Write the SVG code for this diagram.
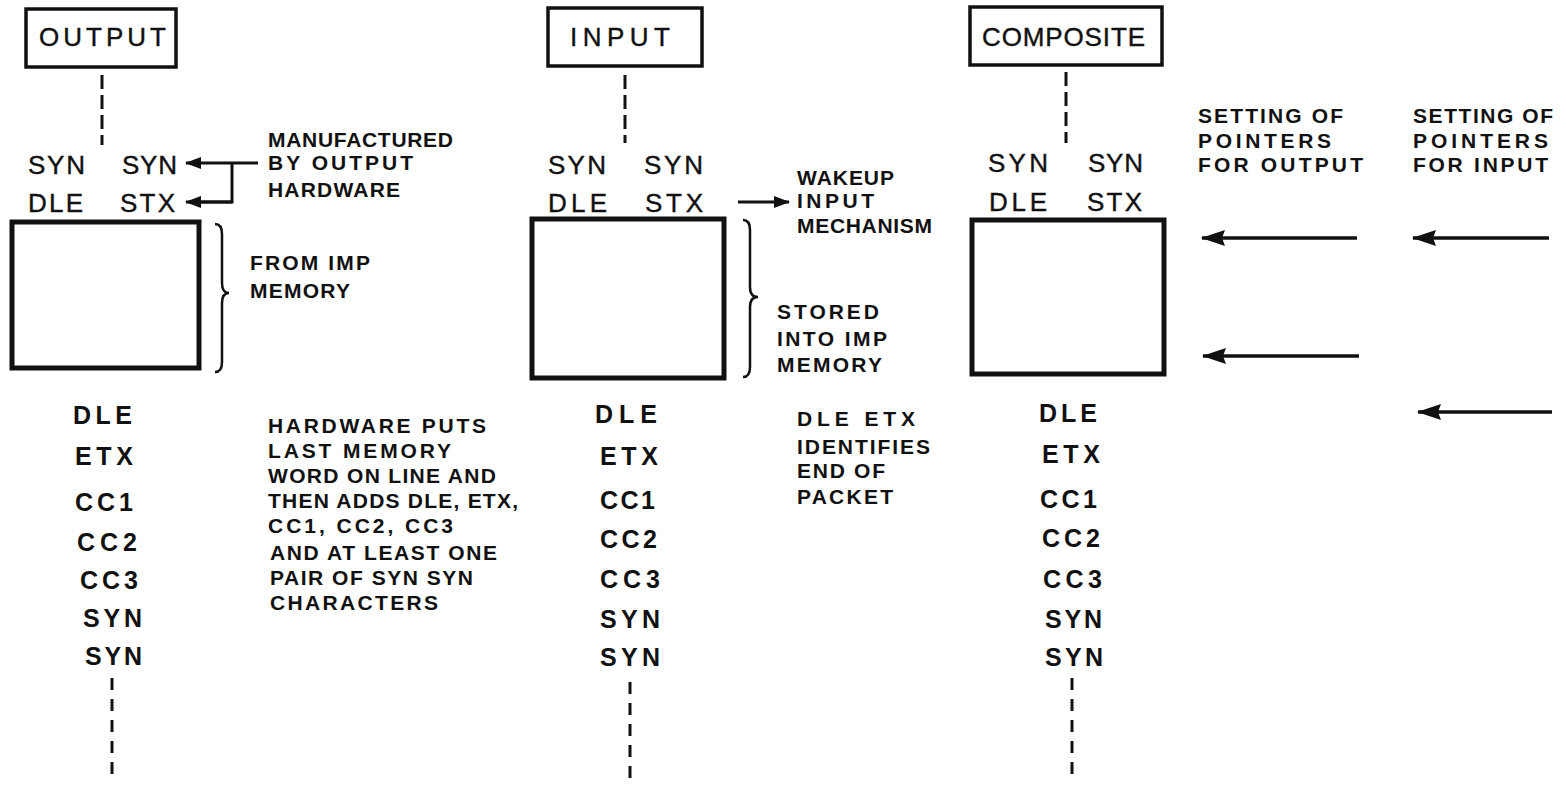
<svg xmlns="http://www.w3.org/2000/svg" width="1566" height="788" viewBox="0 0 1566 788">
<style>
  .bg{fill:#fff}
  .box{fill:#fff;stroke:#111;stroke-width:3.5}
  .buf{fill:#fff;stroke:#111;stroke-width:5}
  .lbl{font-family:"Liberation Sans",Arial,sans-serif;font-size:26px;fill:#111;stroke:#111;stroke-width:0.4}
  .ch{font-family:"Liberation Sans",Arial,sans-serif;font-size:26px;fill:#111;stroke:#111;stroke-width:0.4}
  .lst{font-family:"Liberation Sans",Arial,sans-serif;font-size:25px;font-weight:bold;fill:#111}
  .ann{font-family:"Liberation Sans",Arial,sans-serif;font-size:21px;font-weight:bold;fill:#111}
  .dash{stroke:#111;stroke-width:3;stroke-dasharray:14 6;fill:none}
  .dash2{stroke:#111;stroke-width:3;stroke-dasharray:12 9;fill:none}
  .brace{stroke:#111;stroke-width:2.5;fill:none}
  .ln{stroke:#111;stroke-width:3;fill:none}
  .ln2{stroke:#111;stroke-width:3.5;fill:none}
</style>
<defs>
  <marker id="ahs" viewBox="0 0 16 12" refX="15" refY="6" markerWidth="16" markerHeight="12" orient="auto" markerUnits="userSpaceOnUse">
    <path d="M0,0 L16,6 L0,12 z" fill="#111"/>
  </marker>
  <marker id="ahl" viewBox="0 0 24 16" refX="23" refY="8" markerWidth="24" markerHeight="16" orient="auto" markerUnits="userSpaceOnUse">
    <path d="M0,0 L24,8 L0,16 L3,8 z" fill="#111"/>
  </marker>
</defs>
<rect class="bg" x="0" y="0" width="1566" height="788"/>

<!-- OUTPUT column -->
<g id="output-header">
  <rect class="box" x="26" y="9" width="150" height="58"/>
  <text class="lbl" x="39" y="46" textLength="127" lengthAdjust="spacing">OUTPUT</text>
</g>
<g id="output-start-chars">
  <text class="ch" x="28" y="174" textLength="57" lengthAdjust="spacing">SYN</text>
  <text class="ch" x="122" y="174" textLength="55" lengthAdjust="spacing">SYN</text>
  <text class="ch" x="28" y="212" textLength="55" lengthAdjust="spacing">DLE</text>
  <text class="ch" x="120" y="212" textLength="55" lengthAdjust="spacing">STX</text>
</g>
<g id="output-buffer">
  <rect class="buf" x="12" y="222" width="187" height="146"/>
</g>
<g id="output-end-chars">
  <text class="lst" x="73" y="424" textLength="59" lengthAdjust="spacing">DLE</text>
  <text class="lst" x="75" y="465" textLength="58" lengthAdjust="spacing">ETX</text>
  <text class="lst" x="75" y="511" textLength="58" lengthAdjust="spacing">CC1</text>
  <text class="lst" x="77" y="551" textLength="60" lengthAdjust="spacing">CC2</text>
  <text class="lst" x="80" y="589" textLength="58" lengthAdjust="spacing">CC3</text>
  <text class="lst" x="83" y="627" textLength="59" lengthAdjust="spacing">SYN</text>
  <text class="lst" x="85" y="665" textLength="57" lengthAdjust="spacing">SYN</text>
</g>
<g id="output-notes">
  <text class="ann" x="268" y="147" textLength="185" lengthAdjust="spacing">MANUFACTURED</text>
  <text class="ann" x="268" y="170" textLength="145" lengthAdjust="spacing">BY OUTPUT</text>
  <text class="ann" x="268" y="197" textLength="132" lengthAdjust="spacing">HARDWARE</text>
  <text class="ann" x="250" y="270" textLength="120" lengthAdjust="spacing">FROM IMP</text>
  <text class="ann" x="250" y="298" textLength="100" lengthAdjust="spacing">MEMORY</text>
  <text class="ann" x="268" y="433" textLength="218" lengthAdjust="spacing">HARDWARE PUTS</text>
  <text class="ann" x="268" y="458" textLength="183" lengthAdjust="spacing">LAST MEMORY</text>
  <text class="ann" x="268" y="483" textLength="228" lengthAdjust="spacing">WORD ON LINE AND</text>
  <text class="ann" x="268" y="508" textLength="250" lengthAdjust="spacing">THEN ADDS DLE, ETX,</text>
  <text class="ann" x="268" y="533" textLength="185" lengthAdjust="spacing">CC1, CC2, CC3</text>
  <text class="ann" x="270" y="560" textLength="227" lengthAdjust="spacing">AND AT LEAST ONE</text>
  <text class="ann" x="270" y="585" textLength="203" lengthAdjust="spacing">PAIR OF SYN SYN</text>
  <text class="ann" x="270" y="610" textLength="168" lengthAdjust="spacing">CHARACTERS</text>
</g>

<!-- INPUT column -->
<g id="input-header">
  <rect class="box" x="548" y="8" width="154" height="58"/>
  <text class="lbl" x="570" y="46" textLength="100" lengthAdjust="spacing">INPUT</text>
</g>
<g id="input-start-chars">
  <text class="ch" x="548" y="174" textLength="58" lengthAdjust="spacing">SYN</text>
  <text class="ch" x="644" y="174" textLength="59" lengthAdjust="spacing">SYN</text>
  <text class="ch" x="548" y="212" textLength="59" lengthAdjust="spacing">DLE</text>
  <text class="ch" x="645" y="212" textLength="58" lengthAdjust="spacing">STX</text>
</g>
<g id="input-buffer">
  <rect class="buf" x="532" y="219" width="192" height="159"/>
</g>
<g id="input-end-chars">
  <text class="lst" x="595" y="423" textLength="62" lengthAdjust="spacing">DLE</text>
  <text class="lst" x="600" y="465" textLength="58" lengthAdjust="spacing">ETX</text>
  <text class="lst" x="600" y="509" textLength="55" lengthAdjust="spacing">CC1</text>
  <text class="lst" x="600" y="548" textLength="57" lengthAdjust="spacing">CC2</text>
  <text class="lst" x="600" y="588" textLength="60" lengthAdjust="spacing">CC3</text>
  <text class="lst" x="600" y="628" textLength="60" lengthAdjust="spacing">SYN</text>
  <text class="lst" x="600" y="666" textLength="60" lengthAdjust="spacing">SYN</text>
</g>
<g id="input-notes">
  <text class="ann" x="797" y="185" textLength="97" lengthAdjust="spacing">WAKEUP</text>
  <text class="ann" x="797" y="208" textLength="77" lengthAdjust="spacing">INPUT</text>
  <text class="ann" x="797" y="233" textLength="135" lengthAdjust="spacing">MECHANISM</text>
  <text class="ann" x="777" y="319" textLength="102" lengthAdjust="spacing">STORED</text>
  <text class="ann" x="777" y="346" textLength="110" lengthAdjust="spacing">INTO IMP</text>
  <text class="ann" x="777" y="372" textLength="105" lengthAdjust="spacing">MEMORY</text>
  <text class="ann" x="797" y="426" textLength="118" lengthAdjust="spacing">DLE ETX</text>
  <text class="ann" x="797" y="454" textLength="133" lengthAdjust="spacing">IDENTIFIES</text>
  <text class="ann" x="797" y="478" textLength="88" lengthAdjust="spacing">END OF</text>
  <text class="ann" x="797" y="504" textLength="96" lengthAdjust="spacing">PACKET</text>
</g>

<!-- COMPOSITE column -->
<g id="composite-header">
  <rect class="box" x="970" y="7" width="192" height="58"/>
  <text class="lbl" x="982" y="46" textLength="163" lengthAdjust="spacing">COMPOSITE</text>
</g>
<g id="composite-start-chars">
  <text class="ch" x="988" y="172" textLength="60" lengthAdjust="spacing">SYN</text>
  <text class="ch" x="1088" y="172" textLength="55" lengthAdjust="spacing">SYN</text>
  <text class="ch" x="989" y="211" textLength="58" lengthAdjust="spacing">DLE</text>
  <text class="ch" x="1087" y="211" textLength="55" lengthAdjust="spacing">STX</text>
</g>
<g id="composite-buffer">
  <rect class="buf" x="972" y="220" width="192" height="154"/>
</g>
<g id="composite-end-chars">
  <text class="lst" x="1039" y="422" textLength="58" lengthAdjust="spacing">DLE</text>
  <text class="lst" x="1042" y="463" textLength="58" lengthAdjust="spacing">ETX</text>
  <text class="lst" x="1040" y="508" textLength="57" lengthAdjust="spacing">CC1</text>
  <text class="lst" x="1042" y="547" textLength="58" lengthAdjust="spacing">CC2</text>
  <text class="lst" x="1043" y="588" textLength="59" lengthAdjust="spacing">CC3</text>
  <text class="lst" x="1045" y="628" textLength="57" lengthAdjust="spacing">SYN</text>
  <text class="lst" x="1045" y="666" textLength="58" lengthAdjust="spacing">SYN</text>
</g>
<g id="pointer-notes">
  <text class="ann" x="1198" y="123" textLength="145" lengthAdjust="spacing">SETTING OF</text>
  <text class="ann" x="1198" y="148" textLength="133" lengthAdjust="spacing">POINTERS</text>
  <text class="ann" x="1198" y="172" textLength="165" lengthAdjust="spacing">FOR OUTPUT</text>
  <text class="ann" x="1413" y="123" textLength="140" lengthAdjust="spacing">SETTING OF</text>
  <text class="ann" x="1413" y="148" textLength="135" lengthAdjust="spacing">POINTERS</text>
  <text class="ann" x="1413" y="172" textLength="135" lengthAdjust="spacing">FOR INPUT</text>
</g>

<!-- connectors -->
<g id="connectors">
  <line class="dash" x1="102" y1="75" x2="102" y2="145"/>
  <line class="dash" x1="625" y1="75" x2="625" y2="143"/>
  <line class="dash" x1="1066" y1="72" x2="1066" y2="143"/>
  <line class="dash2" x1="112" y1="678" x2="112" y2="783"/>
  <line class="dash2" x1="630" y1="682" x2="630" y2="785"/>
  <line class="dash2" x1="1072" y1="678" x2="1072" y2="778"/>

  <path class="brace" d="M215,224 Q222,224 222,234 L222,283 Q222,293 229,293 Q222,293 222,303 L222,362 Q222,372 215,372"/>
  <path class="brace" d="M743,220 Q750,220 750,230 L750,287 Q750,297 758,297 Q750,297 750,307 L750,367 Q750,377 743,377"/>

  <line class="ln" x1="258" y1="163" x2="186" y2="163" marker-end="url(#ahs)"/>
  <polyline class="ln" points="232,163 232,202 196,202"/>
  <line class="ln" x1="232" y1="202" x2="186" y2="202" marker-end="url(#ahs)"/>
  <line class="ln" x1="738" y1="202" x2="789" y2="202" marker-end="url(#ahs)"/>

  <line class="ln2" x1="1357" y1="238" x2="1202" y2="238" marker-end="url(#ahl)"/>
  <line class="ln2" x1="1359" y1="356" x2="1203" y2="356" marker-end="url(#ahl)"/>
  <line class="ln2" x1="1549" y1="238" x2="1413" y2="238" marker-end="url(#ahl)"/>
  <line class="ln2" x1="1552" y1="412" x2="1418" y2="412" marker-end="url(#ahl)"/>
</g>
</svg>
